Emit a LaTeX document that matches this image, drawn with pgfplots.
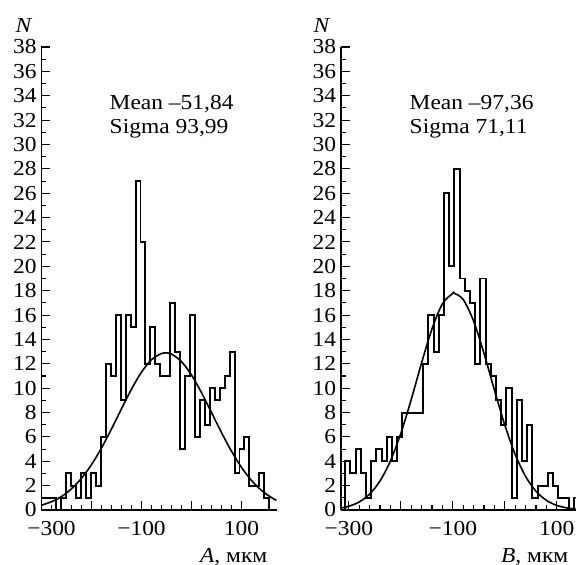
\documentclass[border=0pt]{standalone}
\usepackage{fontspec}
\setmainfont{Liberation Serif}[FakeStretch=1.1]
\usepackage{pgfplots}
\pgfplotsset{compat=1.18}
\newcommand\F{\fontsize{16pt}{19pt}\selectfont}
\begin{document}
\begin{tikzpicture}
\useasboundingbox (0,0) rectangle (432pt,-423.75pt);
\pgfplotsset{
  myax/.style={
    scale only axis, anchor=south west,
    height=347.25pt,
    ymin=0, ymax=38,
    axis x line=bottom, axis y line=left,
    axis line style={-, line width=1.1pt},
    tick align=inside,
    xtick={-300,-200,-100,0,100},
    minor x tick num=4,
    ytick={0,2,...,38}, minor y tick num=1,
    major tick length=6.5pt, minor tick length=3.5pt,
    every tick/.style={black, line width=0.8pt},
    tick label style={font=\F},
    xticklabel style={yshift=-8pt, inner sep=0pt},
    yticklabel style={inner sep=0pt, xshift=-3.5pt},
    /pgf/number format/assume math mode=true,
  },
  hist/.style={const plot mark left, line width=1.45pt, black, no marks},
  gaus/.style={smooth, line width=1.2pt, black, no marks},
}
% left panel
\begin{axis}[myax, at={(31.125pt,-382.5pt)}, width=176.25pt,
  xmin=-300, xmax=170, clip=false,
  xticklabels={\hspace*{15pt}−300,,−100,,100}]
\addplot[hist] coordinates {
(-300,0) (-300,1) (-290.1,1) (-280.2,1) (-270.3,0) (-260.4,1) (-250.5,3) (-240.6,2)
(-230.7,1) (-220.8,3) (-210.9,1) (-201,3) (-191.1,2) (-181.2,6) (-171.3,12) (-161.4,11)
(-151.5,16) (-141.6,9) (-131.7,16) (-121.8,15) (-111.9,27) (-102,22) (-92.1,12) (-82.2,15)
(-72.3,12) (-62.4,11) (-52.5,11) (-42.6,17) (-32.7,13) (-22.8,5) (-12.9,11) (-3,16)
(6.9,6) (16.8,9) (26.7,7) (36.6,10) (46.5,9) (56.4,10) (66.3,11) (76.2,13) (86.1,3)
(96,5) (105.9,6) (115.8,2) (125.7,2) (135.6,3) (145.5,1) (155.4,1) (155.4,0)};
\addplot[gaus] coordinates {
(-300,0.395) (-280,0.678) (-260,1.110) (-240,1.739) (-220,2.603) (-200,3.724)
(-180,5.091) (-160,6.653) (-140,8.309) (-120,9.918) (-100,11.313) (-80,12.334)
(-60,12.852) (-51.84,12.9) (-40,12.798) (-20,12.181) (0,11.080) (20,9.632) (40,8.003)
(60,6.355) (80,4.823) (100,3.499) (120,2.425) (140,1.607) (160,1.018) (170,0.796)};
\end{axis}
% right panel
\begin{axis}[myax, at={(255.75pt,-382.5pt)}, width=175.9pt,
  xmin=-315, xmax=136,
  xticklabels={−300,,−100,,100}]
\addplot[hist] coordinates {
(-307,0) (-307,4) (-297,3) (-287,5) (-277,3) (-267,1) (-257,4) (-247,5) (-237,4)
(-227,6) (-217,4) (-207,6) (-197,8) (-187,8) (-177,8) (-167,8) (-157,12) (-147,16)
(-137,13) (-127,16) (-117,26) (-107,20) (-97,28) (-87,19) (-77,18) (-67,17) (-57,12)
(-47,19) (-37,12) (-27,11) (-17,9) (-7,7) (3,10) (13,1) (23,9) (33,4) (43,7) (53,1)
(63,2) (73,2) (83,3) (93,2) (103,1) (113,1) (123,0) (133,1) (143,1) (143,0)};
\addplot[gaus] coordinates {
(-315,0.165) (-300,0.307) (-280,0.658) (-260,1.302) (-240,2.381) (-220,4.023)
(-200,6.281) (-180,9.060) (-160,12.076) (-140,14.871) (-120,16.920) (-100,17.788)
(-97.36,17.8) (-80,17.277) (-60,15.505) (-40,12.857) (-20,9.849) (0,6.972) (20,4.560)
(40,2.755) (60,1.539) (80,0.794) (100,0.378) (120,0.167) (136,0.080)};
\end{axis}
% texts
\node[font=\F, anchor=base west] at (78.75pt,-81.75pt) {Mean –51,84};
\node[font=\F, anchor=base west] at (78.75pt,-99.75pt) {Sigma 93,99};
\node[font=\F, anchor=base west] at (303.75pt,-81.75pt) {Mean –97,36};
\node[font=\F, anchor=base west] at (303.75pt,-99.75pt) {Sigma 71,11};
\node[font=\F, anchor=base, inner sep=0pt] at (18pt,-24pt) {\textit{N}};
\node[font=\F, anchor=base, inner sep=0pt] at (241.5pt,-24pt) {\textit{N}};
\node[font=\F, anchor=base east] at (204pt,-421.5pt) {\textit{A}, мкм};
\node[font=\F, anchor=base east] at (429.75pt,-421.5pt) {\textit{B}, мкм};
\end{tikzpicture}
\end{document}
